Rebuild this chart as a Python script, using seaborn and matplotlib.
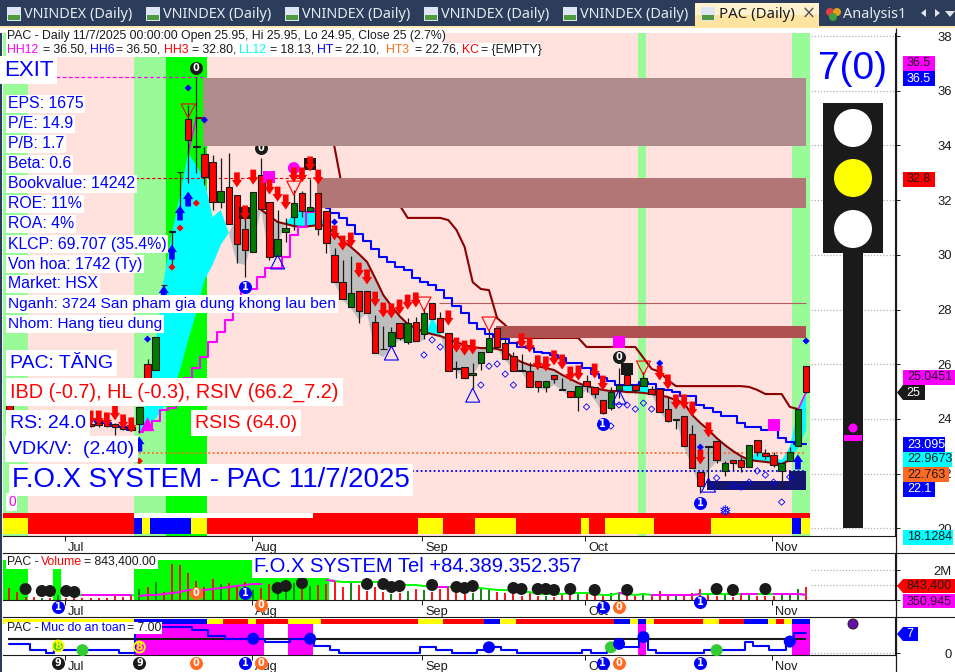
#!/usr/bin/env python3
# -*- coding: utf-8 -*-
import numpy as np
import matplotlib
matplotlib.use("Agg")
import matplotlib.pyplot as plt
from matplotlib.patches import Rectangle, Polygon, Circle
from matplotlib.path import Path
from matplotlib.transforms import ScaledTranslation
import seaborn as sns

# candles
open_ = [24.51,24.2,24.1,23.9,23.7,23.8,23.6,23.8,23.8,23.8,23.8,23.85,23.8,23.8,23.7,23.7,23.81,26.01,25.79,28.9,
         30.87,33.03,34.97,33.98,33.69,33.39,31.93,32.48,32.19,30.94,30.10,32.92,31.93,29.96,30.83,31.38,32.26,31.6,32.26,31.6,
         30.0,29.0,28.09,28.68,28.68,27.54,26.56,26.67,27.51,26.81,27.54,27.1,28.24,27.69,27.14,25.86,25.9,25.61,26.05,26.45,
         27.32,26.78,26.3,25.79,25.75,25.39,25.17,25.61,25.09,25.02,24.8,25.39,25.17,24.69,24.4,25.06,25.61,25.24,25.2,25.09,
         25.09,24.36,23.96,24.11,23.45,22.06,23.01,23.19,22.1,22.5,22.5,22.24,23.23,22.75,22.68,22.1,22.46,23.01,25.95]
high = [24.7,24.3,24.3,24.1,23.9,24.0,23.9,23.9,23.95,23.9,23.9,23.9,23.85,23.85,23.8,23.75,24.44,26.2,26.99,28.9,
        30.87,33.03,35.48,36.5,33.94,33.65,33.54,33.72,32.19,31.38,32.3,33.54,31.93,31.64,31.35,32.37,32.33,32.77,32.26,31.6,
        30.25,29.81,29.96,28.68,28.68,27.8,27.4,27.36,27.51,27.69,27.73,28.06,28.24,27.91,27.14,26.12,25.9,26.05,26.45,27.25,
        27.32,26.96,26.45,26.37,26.08,25.39,25.39,25.61,25.5,25.02,25.2,25.61,25.17,24.69,25.17,25.86,25.61,25.24,25.71,25.2,
        25.09,24.8,24.0,24.11,23.78,22.06,23.01,23.19,22.46,22.5,22.61,23.05,23.23,22.9,22.79,22.39,22.97,24.36,25.95]
low = [23.92,23.9,23.8,23.7,23.6,23.6,23.5,23.6,23.65,23.65,23.7,23.7,23.7,23.4,23.6,23.55,23.49,25.0,25.79,28.0,
       29.6,31.75,32.62,32.99,32.55,31.64,31.71,31.13,29.7,29.19,30.1,31.67,29.81,29.96,30.47,30.91,31.38,31.6,30.72,30.07,
       29.0,28.38,28.09,27.51,27.87,26.41,26.54,26.67,26.89,26.74,26.85,26.92,27.65,27.18,25.75,25.5,25.5,25.13,25.79,26.45,
       26.63,26.19,25.75,25.77,25.17,24.98,24.98,25.31,25.07,24.8,24.29,24.98,24.77,24.18,24.33,24.77,25.24,24.95,25.2,24.91,
       24.25,23.89,23.63,23.01,22.21,21.29,21.66,22.39,21.91,22.13,22.06,22.24,22.64,22.53,22.24,21.51,22.46,23.01,24.95]
close = [23.92,24.0,23.9,23.8,23.8,23.7,23.8,23.7,23.7,23.72,23.75,23.78,23.74,23.72,23.65,23.6,24.44,25.0,26.99,28.88,
         30.85,33.01,34.2,33.96,32.84,31.93,32.33,31.13,30.40,30.18,32.30,31.67,29.92,30.58,30.98,31.89,31.60,31.75,30.94,30.43,
         29.0,28.38,28.6,27.95,27.87,26.41,26.54,27.18,26.96,27.51,26.85,27.87,27.65,27.18,25.75,25.84,25.5,25.68,26.45,26.96,
         26.63,26.19,25.75,25.77,25.17,25.17,25.39,25.46,25.07,24.8,25.2,25.2,24.91,24.22,24.98,25.24,25.24,25.06,25.5,24.91,
         24.25,23.92,24.0,23.01,22.21,21.55,22.99,22.5,22.39,22.39,22.24,23.05,22.79,22.64,22.32,22.39,22.79,24.36,25.0]
bars = np.arange(len(close))

# cloud edges, bars 16 to 98
cloud_x = np.arange(16, 99)
cloud_ma = [23.49,23.78,24.03,24.4,24.87,25.79,26.89,27.87,29.08,29.63,30.36,
            30.8,31.38,31.53,31.64,31.64,31.42,31.2,31.13,31.05,31.02,31.05,31.09,31.05,30.8,30.51,30.29,30.03,29.74,29.15,28.53,
            28.13,27.76,27.47,27.32,27.18,27.1,27.03,26.92,26.81,26.7,26.63,26.59,26.59,26.56,26.48,26.23,26.08,25.97,25.93,25.86,
            25.79,25.61,25.46,25.31,25.2,25.13,25.06,25.02,25.02,24.98,24.98,24.95,24.91,24.87,24.8,24.69,24.58,24.14,23.85,23.6,
            23.3,23.05,22.83,22.64,22.5,22.46,22.43,22.39,22.35,22.5,22.94,23.6]
cloud_fast = [23.67,24.8,26.78,29.08,30.8,32.19,33.72,33.28,32.74,31.38,31.64,
              30.8,29.7,29.63,30.54,31.64,29.81,30.43,31.16,31.53,31.71,31.6,31.53,31.05,28.97,28.35,28.06,27.62,27.87,26.41,26.26,
              26.59,26.89,26.78,26.78,26.89,27.73,27.18,25.79,25.79,25.42,25.61,26.05,26.7,26.56,26.15,25.79,25.72,25.24,25.13,25.06,
              25.24,25.06,24.77,24.77,25.06,24.69,24.22,24.51,25.24,25.31,25.24,25.5,24.91,24.25,23.89,23.96,22.97,22.21,21.51,22.13,
              22.43,22.39,22.39,22.21,22.43,22.86,22.68,22.57,22.5,22.97,24.33,24.95]

# trailing lines
upper_x = np.arange(23, 98)
upper_line = [35.0,35.0,35.0,35.0,35.0,35.0,35.0,35.0,35.0,35.0,35.0,35.0,35.0,35.0,35.0,35.0,34.93,33.94,32.37,32.0,32.0,31.97,31.93,31.89,31.86,31.82,
              31.35,31.35,31.35,31.35,31.35,31.27,30.91,30.29,29.0,28.75,28.71,27.69,27.43,27.14,
              26.96,26.96,26.96,26.96,26.96,26.96,26.96,26.96,26.63,26.63,26.63,26.63,26.63,26.63,26.63,26.23,25.83,25.72,25.42,
              25.2,25.2,25.2,25.2,25.2,25.2,25.2,25.2,25.2,25.17,25.06,24.91,24.91,24.91,24.44,24.36]
blue_left_x = np.arange(10, 16)
blue_left = [23.95,23.89,23.85,23.75,23.7,23.6]
blue_x = np.arange(39, 99)
blue_line = [31.71,31.53,31.35,31.09,30.76,30.51,30.21,29.92,29.74,29.55,29.44,29.15,29.0,28.9,28.71,28.42,28.13,27.87,27.51,27.29,
             27.1,26.99,26.92,26.78,26.63,26.59,26.45,26.41,26.34,26.23,26.05,26.05,25.86,25.64,25.5,25.39,25.24,25.24,25.24,25.35,
             25.28,25.09,25.06,24.98,24.84,24.84,24.51,24.4,24.25,24.11,24.11,23.85,23.71,23.71,23.6,23.6,23.31,23.16,23.09,23.09]
magenta_x = np.arange(16, 39)
magenta_line = [23.52,23.6,23.92,24.33,24.4,24.87,25.5,25.86,26.26,26.81,27.18,27.62,27.91,28.75,28.75,29.19,29.52,29.52,29.92,30.72,31.02,31.57,31.68]
surge_top = [22, 23, 33.72, 35.0]
surge_end = [97, 98, 24.33, 24.98]

# markers on the price panel
arrow_dn_x = [10,11,12,13,14,15,28,29,30,32,33,34,35,36,37,38,40,41,42,43,44,45,46,47,48,49,50,54,55,56,57,63,64,65,66,67,68,69,70,72,73,80,81,82,83,84,85,86]
arrow_dn_y = [24.03,24.03,23.96,24.22,23.89,23.78,32.74,31.53,32.84,32.48,32.22,31.93,32.92,32.92,33.32,32.84,30.8,30.43,30.54,29.44,29.19,28.38,27.98,27.95,28.09,28.27,28.35,27.69,26.7,26.59,26.63,26.85,26.7,26.05,26.01,26.23,26.08,25.64,25.68,25.75,25.31,25.68,25.35,24.62,24.62,24.36,22.61,23.6]
arrow_up_x = [16,19,20,21,22,97]
arrow_up_y = [23.08,28.6,30.1,31.53,32.04,22.43]
tri_red_x = [22,35,51,59,78]
tri_red_y = [35.26,32.44,28.2,27.47,25.86]
tri_blue_x = [33,47,57,75,86]
tri_blue_y = [29.74,26.41,24.87,24.8,21.58]
dia_red_x = [16,20,21,23]
dia_red_y = [22.46,29.55,30.98,31.89]
dia_blue_x = [17,22,24,40,80,85,98]
dia_blue_y = [26.92,36.1,34.93,31.2,26.04,22.97,26.85]
dia_open_x = [51,52,53,58,59,60,61,62,71,74,75,76,77,78,79,87,89,90,91,92,93,94,95,96]
dia_open_y = [26.34,26.89,26.63,25.24,25.93,26.01,25.64,25.24,24.44,23.74,24.51,24.51,24.36,24.58,24.36,21.84,21.55,21.51,21.69,22.1,21.95,21.69,20.96,21.88]
sq_black_x = [29,37,76]
sq_black_y = [31.53,33.32,25.83]
sq_mag_x = [32,75,94]
sq_mag_y = [32.84,26.81,23.78]

# zones and ribbons (bar index edges)
pale_zones = [(-0.775,2.33),(15.33,19.33),(77.33,78.33),(96.33,98.5)]
lime_zone = (19.33,24.33)
rib_ends = [2.33,15.33,16.33,17.33,22.33,24.33,50.33,53.33,57.33,62.33,70.33,71.33,73.33,79.33,86.33,96.33,97.33,98.5]
rib_cols = ['y','r','b','y','b','y','r','y','r','y','r','y','r','y','r','y','b','y']
safe_ends = [15.33,24.33,26.33,29.33,30.33,34.33,38.33,50.33,53.33,58.33,60.33,62.33,74.33,76.33,77.33,78.33,79.33,85.33,87.33,90.33,93.33,94.33,95.33,96.33,98.5]
safe_cols = ['y','b','y','r','y','r','y','r','y','r','b','y','r','b','y','b','y','r','y','r','b','y','r','y','b']
safe_spans = [(15.33,31.33),(34.33,37.33),(77.33,78.33),(96.33,98.5)]
levels_zone = [(23.8,98,33.98,36.47,'#B08B8B'),(37.85,98,31.71,32.8,'#B27676'),(59.86,98,26.96,27.4,'#B05050'),
               (85.8,98,21.4,21.73,'#15156E'),(95.9,98,21.47,22.1,'#15156E')]

# volume, in thousands
volume_k = [800,534,200,200,133,133,333,133,133,133,133,133,133,333,200,267,734,867,1200,534,2400,2334,1800,1267,867,1400,1067,1134,1000,1200,
            667,800,1200,467,534,1267,734,934,1000,1067,1200,867,1134,1000,600,867,534,400,467,600,734,667,534,734,934,467,400,467,800,734,
            534,467,400,267,467,267,267,200,333,400,467,534,467,333,467,400,534,267,467,333,600,333,333,333,467,734,400,267,400,200,400,467,267,267,267,400,333,734,843.4]
vol_ma_x = np.arange(8, 99)
vol_ma_k = [333,333,333,333,333,333,333,333,267,333,333,400,467,534,667,667,667,734,800,867,934,1000,1067,1067,1134,1134,1200,1200,1267,1267,1334,1334,
            1267,1200,1200,1200,1200,1200,1200,1134,1067,1000,1000,934,867,867,867,867,867,800,800,734,667,667,600,534,534,400,400,400,400,467,467,467,400,333,333,467,400,333,400,
            333,333,333,333,333,333,400,400,400,400,400,400,400,400,400,400,400,400,400,351]
vol_mag = [(9,15),(16,31),(39,40),(52,54),(75,76),(79,85),(90,92),(94,98)]
vol_zones = [(-0.775,2.33,2670),(5.33,6.33,2670),(15.33,29.9,2670),(29.9,39.3,1470)]
vol_dot_x = [2,4,5,7,8,33,34,36,44,46,47,48,52,55,56,57,62,63,65,66,67,69,72,76,87,89,93]
vol_dot_k = [734,600,600,600,534,800,934,1134,1067,1067,867,934,1000,867,800,934,800,734,734,734,667,734,667,667,734,667,734]

# safety level
safety = [3,3,3,1,1,0,1,1,1,1,1,1,1,1,0,0,8,8,9,9,9,9,9,8,8,6,6,5,5,5,5,5,4,4,4,5,5,5,2.4,2.4,1,
          0,0,0,0,0,0,0,0,0,0,2,2,1,1,0,0,0,1,2,2,1,1,0,0,0,0,0,0,0,0,1,0,0,1,2,2,2,5,1,
          0,0,0,0,0,0,1,1,1,1,1,4,2.4,2.4,1,1,3.8,7,7]
safe_blue_x = [30,37,59,75,78,96]
safe_blue_y = [5,5,2,3.2,5.6,4]
safe_green_x = [6,9,74,87]
safe_green_y = [2.45,1,2,1]

month_pos = [7,30,51,71,94]
month_names = ['Jul','Aug','Sep','Oct','Nov']
price_ticks = [20,22,24,26,28,30,32,34,36,38]

info_labels = ['EPS: 1675','P/E: 14.9','P/B: 1.7','Beta: 0.6','Bookvalue: 14242','ROE: 11%','ROA: 4%','KLCP: 69.707 (35.4%)',
               'Von hoa: 1742 (Ty)','Market: HSX','Nganh: 3724 San pham gia dung khong lau ben','Nhom: Hang tieu dung']
info_sizes = [11.4,11.4,11.4,11.4,11.4,11.4,11.4,11.4,11.4,11.4,11.05,11.1]
header2 = [(7,'HH12','#FF00FF'),(43,'= 36.50,','k'),(90,'HH6','#0000FF'),(116,'= 36.50,','k'),(164,'HH3','#FF0000'),(192,'= 32.80,','k'),
           (239,'LL12','#00FFFF'),(270,'= 18.13,','k'),(317,'HT','#0000FF'),(335,'= 22.10,','k'),(386,'HT3','#FF6A22'),(415,'= 22.76,','k'),
           (462,'KC','#FF0000'),(481,'= {EMPTY}','k')]
side_tags = [(903,56,935,71,'#FF00FF','k','36.5'),(903,71,935,86,'#0000FF','w','36.5'),(903,172,935,187,'#FF0000','k','32.8'),
             (903,370,955,385,'#FF00FF','k','25.0451'),(903,437,945,452,'#0000FF','w','23.095'),(903,452,952,467,'#00FFFF','k','22.9673'),
             (903,467,949,482,'#FF6A22','k','22.763'),(903,482,935,497,'#0000FF','w','22.1'),(903,530,953,545,'#00FFFF','k','18.1284'),
             (903,594,955,608,'#FF00FF','k','350,945')]
arrow_tags = [(897,925,385,400,'k','w','25'),(897,955,579,593,'#FF0000','k','843,400'),(897,918,627,641,'#0000FF','w','7')]

W, H = 955, 672
sns.set_theme(style='white')
plt.rcParams['font.family'] = ['Liberation Sans', 'DejaVu Sans']
plt.rcParams['axes.linewidth'] = 0.8
RED, GREEN, BLUE, MAG, LIME, PALE, PINK = '#FF0000', '#007A00', '#0000FF', '#FF00FF', '#00FF00', '#99FB98', '#FFE1DE'
DKRED = '#8B0000'
COL = {'y': '#FFFF00', 'r': RED, 'b': BLUE}
XL = (-0.775, 108.94)

fig = plt.figure(figsize=(W/100, H/100), dpi=100, facecolor='white')


def panel(y0, y1):
    a = fig.add_axes([3/W, 1-y1/H, 892/W, (y1-y0)/H])
    a.set_xlim(*XL)
    for s in ['left']:
        a.spines[s].set_visible(False)
    for s in ['top', 'bottom', 'right']:
        a.spines[s].set_color('k')
    a.spines['top'].set_visible(y0 != 33)
    a.tick_params(axis='x', bottom=True, length=3.6, width=0.7, pad=1, labelsize=9.2, colors='k')
    a.tick_params(axis='y', left=False, right=True, labelleft=False, labelright=True, length=3.6, width=0.7, pad=37.4, labelsize=9.4, colors='k')
    a.set_xticks([m-0.2 for m in month_pos], month_names)
    off = ScaledTranslation(3/100, 0, fig.dpi_scale_trans)
    for t in a.get_xticklabels():
        t.set_ha('left')
        t.set_transform(t.get_transform()+off)
    return a


def dots(a, x, y, marker, color, px, z=6, lw=0, edge='none'):
    sns.scatterplot(x=x, y=y, ax=a, marker=marker, color=color, s=(px*0.72)**2, linewidth=lw, edgecolor=edge, zorder=z, clip_on=False, legend=False)


def hollow(a, x, y, marker, color, px, lw=0.8, z=6):
    a.scatter(x, y, marker=marker, s=(px*0.72)**2, facecolors='none', edgecolors=color, linewidths=lw, zorder=z, clip_on=False)


def badge(a, x, y, txt, color, z=7, px=13):
    a.scatter([x], [y], s=(px*0.72)**2, color=color, linewidths=0, zorder=z, clip_on=False)
    a.text(x, y, txt, color='w', fontsize=7, fontweight='bold', family='DejaVu Sans', ha='center', va='center', zorder=z+0.1, clip_on=False)


arrow_up = Path([(-.19,-.5),(.19,-.5),(.19,0),(.34,0),(0,.5),(-.34,0),(-.19,0),(-.19,-.5)], closed=True)
arrow_dn = Path([(-.19,.5),(.19,.5),(.19,0),(.34,0),(0,-.5),(-.34,0),(-.19,0),(-.19,.5)], closed=True)

# ---- price panel
ax = panel(33, 536)
ax.set_ylim(19.72, 38.11)
ax.axvspan(XL[0], 98.5, color=PINK, lw=0, zorder=0.2)
for a0, a1 in pale_zones:
    ax.axvspan(a0, a1, color=PALE, lw=0, zorder=0.3)
ax.axvspan(*lime_zone, color=LIME, lw=0, zorder=0.3)

# ribbons at the foot of the panel
ax.axvspan(XL[0], 15.33, ymin=0.0358, ymax=0.0457, color=RED, lw=0, zorder=0.9)
ax.axvspan(15.33, 37.33, ymin=0.0358, ymax=0.0457, color='w', lw=0, zorder=0.9)
ax.axvspan(37.33, 98.5, ymin=0.0358, ymax=0.0457, color=RED, lw=0, zorder=0.9)
prev = XL[0]
for e, c in zip(rib_ends, rib_cols):
    ax.axvspan(prev, e, ymin=0.004, ymax=0.0358, color=COL[c], lw=0, zorder=0.9)
    prev = e

# cloud
cm, cf = np.array(cloud_ma), np.array(cloud_fast)
ax.fill_between(cloud_x, cm, cf, where=cf >= cm, interpolate=True, color='#00FFFF', lw=0, zorder=1.5)
ax.fill_between(cloud_x, cm, cf, where=cf <= cm, interpolate=True, color='#BEBEBE', lw=0, zorder=1.5)

# level lines
ax.hlines(36.5, 5.7, 23.8, color=MAG, lw=0.9, ls=(0, (3, 2)), zorder=2)
ax.hlines(32.8, 15.5, 37.9, color='#E00000', lw=0.8, ls=(0, (3, 2)), zorder=2)
ax.hlines(22.76, 16, 98, color='#FF6A22', lw=1.3, ls=(0, (1, 1.4)), zorder=2)
ax.hlines(22.1, 0, 98, color=BLUE, lw=1.3, ls=(0, (1, 1.4)), zorder=2)
ax.hlines(28.24, 52.9, 98, color='#B06060', lw=0.8, zorder=2)
ax.hlines(price_ticks, 98.6, XL[1], color='#B0B0B0', lw=0.9, ls=(0, (1, 1.5)), zorder=1)

# trailing lines
sns.lineplot(x=cloud_x[15:81], y=cloud_ma[15:81], ax=ax, color=DKRED, lw=1.5, zorder=3, errorbar=None)
sns.lineplot(x=upper_x, y=upper_line, ax=ax, color=DKRED, lw=1.5, zorder=3, errorbar=None)
sns.lineplot(x=blue_left_x, y=blue_left, ax=ax, color=BLUE, lw=1.5, drawstyle='steps-mid', zorder=3, errorbar=None)
sns.lineplot(x=blue_x, y=blue_line, ax=ax, color=BLUE, lw=1.5, drawstyle='steps-mid', zorder=3, errorbar=None)
sns.lineplot(x=magenta_x, y=magenta_line, ax=ax, color=MAG, lw=1.5, drawstyle='steps-mid', zorder=3, errorbar=None)
ax.plot(surge_top[:2], surge_top[2:], color=MAG, lw=1.2, zorder=3)
ax.plot(surge_end[:2], surge_end[2:], color=MAG, lw=1.2, zorder=3)
badge(ax, 31, 33.9, '0', 'k', z=3.2)

# supply and demand zones
for a0, a1, lo, hi, c in levels_zone:
    ax.fill_between([a0, a1], lo, hi, color=c, lw=0, zorder=4)

# candles
o, h, l, c_ = map(np.array, (open_, high, low, close))
ax.vlines(bars, l, h, color='k', lw=0.9, zorder=5)
body_col = [RED if b else GREEN for b in c_ < o]
ax.bar(bars, np.abs(c_-o), bottom=np.minimum(o, c_), width=0.8, color=body_col, edgecolor='k', linewidth=0.8, zorder=5.1)

# signals
dots(ax, sq_black_x, sq_black_y, 's', 'k', 12, z=5.5)
dots(ax, sq_mag_x, sq_mag_y, 's', MAG, 12, z=5.5)
dots(ax, [35], [33.17], 'o', MAG, 12, z=5.5)
dots(ax, arrow_dn_x, arrow_dn_y, arrow_dn, RED, 15)
dots(ax, arrow_up_x, arrow_up_y, arrow_up, BLUE, 15)
hollow(ax, tri_red_x, tri_red_y, 'v', RED, 14)
hollow(ax, tri_blue_x, tri_blue_y, '^', BLUE, 14)
dots(ax, [17], [23.81], '^', MAG, 14)
dots(ax, dia_red_x, dia_red_y, 'D', RED, 5)
dots(ax, dia_blue_x, dia_blue_y, 'D', BLUE, 5)
hollow(ax, dia_open_x, dia_open_y, 'D', BLUE, 4.5, lw=0.6)
badge(ax, 23, 36.83, '0', 'k')
badge(ax, 75, 26.26, '0', 'k')
badge(ax, 29, 28.82, '1', BLUE)
badge(ax, 73, 23.81, '1', BLUE)
badge(ax, 85, 20.93, '1', BLUE)
ax.text(88, 20.63, '\u2745', color=BLUE, fontsize=11, ha='center', va='center', family='DejaVu Sans', zorder=7)
ax.set_yticks(price_ticks)
for t in ax.get_yticklabels():
    t.set_ha('right')

# ---- volume panel
ax_v = panel(553, 600)
ax_v.set_ylim(0, 3135000)
for a0, a1, top_k in vol_zones:
    ax_v.fill_between([a0, a1], 0, top_k*1000, color=LIME, lw=0, zorder=0.5)
ax_v.hlines([1000000, 2000000], 98.6, XL[1], color='#B0B0B0', lw=0.9, ls=(0, (1, 1.5)), zorder=1)
ax_v.vlines(bars, 0, np.array(volume_k)*1000, color=[RED if b else GREEN for b in c_ < o], lw=1.3, zorder=2)
sns.lineplot(x=vol_ma_x, y=np.array(vol_ma_k)*1000, ax=ax_v, color=LIME, lw=1.4, zorder=3, errorbar=None)
for s0, s1 in vol_mag:
    keep = (vol_ma_x >= s0) & (vol_ma_x <= s1)
    sns.lineplot(x=vol_ma_x[keep], y=np.array(vol_ma_k)[keep]*1000, ax=ax_v, color=MAG, lw=1.4, zorder=3.1, errorbar=None)
dots(ax_v, vol_dot_x, np.array(vol_dot_k)*1000, 'o', 'k', 12, z=4)
badge(ax_v, 6, -467000, '1', BLUE)
badge(ax_v, 23, 467000, '0', '#FF6A22')
badge(ax_v, 29, 467000, '1', BLUE)
badge(ax_v, 31, -333000, '0', '#FF6A22')
badge(ax_v, 73, -467000, '1', BLUE)
badge(ax_v, 75, -467000, '0', '#FF6A22')
badge(ax_v, 85, -133000, '1', BLUE)
ax_v.set_yticks([0, 1000000, 2000000], ['', '', '2M'])
for t in ax_v.get_yticklabels():
    t.set_ha('right')

# ---- safety panel
ax_s = panel(617, 655)
ax_s.set_ylim(-0.7, 12.6)
for s0, s1 in safe_spans:
    ax_s.axvspan(s0, s1, ymin=0, ymax=0.816, color=MAG, lw=0, zorder=0.5)
prev = XL[0]
for e, c in zip(safe_ends, safe_cols):
    ax_s.axvspan(prev, e, ymin=0.816, ymax=0.947, color=COL[c], lw=0, zorder=0.6)
    prev = e
ax_s.hlines(0, 98.6, XL[1], color='#B0B0B0', lw=0.9, ls=(0, (1, 1.5)), zorder=1)
ax_s.hlines(5, -0.2, 98, color='k', lw=1.5, zorder=2)
sns.lineplot(x=bars, y=safety, ax=ax_s, color=BLUE, lw=1.5, drawstyle='steps-mid', zorder=3, errorbar=None)
dots(ax_s, safe_green_x, safe_green_y, 'o', '#32CD32', 12, z=4)
dots(ax_s, safe_blue_x, safe_blue_y, 'o', BLUE, 12, z=4)
hollow(ax_s, [6, 16], [2.45, 2.1], 'o', '#FFFF00', 11, lw=1.3, z=5)
for bx, by in [(6, 2.45), (16, 2.1)]:
    ax_s.text(bx, by, '8', color='#FFFF00', fontsize=7.5, fontweight='bold', family='DejaVu Sans', ha='center', va='center', zorder=5.1)
for bx, txt, col in [(6,'9','k'),(16,'9','k'),(23,'0','#FF6A22'),(29,'1',BLUE),(31,'0','#FF6A22'),(73,'1',BLUE),(75,'0','#FF6A22'),(85,'1',BLUE)]:
    badge(ax_s, bx, -3.5, txt, col)
ax_s.set_yticks([0], ['0'])
for t in ax_s.get_yticklabels():
    t.set_ha('right')

# ---- overlay in screen pixels: window chrome, text boxes, traffic light
top = fig.add_axes([0, 0, 1, 1], zorder=20)
top.set_xlim(0, W)
top.set_ylim(H, 0)
top.axis('off')
top.patch.set_alpha(0)


def box(x0, y0, x1, y1, color, z=1):
    top.add_patch(Rectangle((x0, y0), x1-x0, y1-y0, color=color, lw=0, zorder=z))


# tab bar
NAVY = '#2C3D5B'
box(0, 0, W, 26, NAVY)
box(0, 26, 2, H, NAVY)
box(0, 26, W, 28, '#FFE9B0')
box(0, 28, 3, 33, 'w')
for tx in [6, 145, 284, 423, 562]:
    box(tx+1, 7, tx+15, 21, '#DDE6F2', 2)
    box(tx+2, 15, tx+14, 20, '#4E9A3C', 2)
    top.text(tx+18, 14.5, 'VNINDEX (Daily)', color='#E6EAF0', fontsize=10.4, family='Noto Sans', va='center', zorder=3)
box(695, 3, 819, 15, '#FFF3CF', 2)
box(695, 15, 819, 28, '#FFE3A0', 2)
box(701, 7, 715, 21, '#DDE6F2', 3)
box(702, 15, 714, 20, '#4E9A3C', 3)
top.text(719, 14.5, 'PAC (Daily)', color='k', fontsize=10.8, fontweight='bold', family='Noto Sans', va='center', zorder=3)
top.text(809, 14, '\u00d7', color='#555555', fontsize=12, ha='center', va='center', family='DejaVu Sans', zorder=3)
top.add_patch(Circle((830, 12), 4, color='#E04040', lw=0, zorder=2))
top.add_patch(Circle((837, 12), 4, color='#E0A020', lw=0, zorder=2))
top.add_patch(Circle((833, 17), 4, color='#40A040', lw=0, zorder=2))
top.text(843, 14.5, 'Analysis1', color='#E6EAF0', fontsize=10.4, family='Noto Sans', va='center', zorder=3)
top.add_patch(Polygon([(926, 9), (926, 17), (921, 13)], color='#E0E4EA', lw=0, zorder=2))
top.add_patch(Polygon([(935, 9), (935, 17), (940, 13)], color='#E0E4EA', lw=0, zorder=2))
top.add_patch(Polygon([(945, 11), (955, 11), (950, 17)], color='#E0E4EA', lw=0, zorder=2))

# separators and right axis line
top.hlines([553, 617], 895, W, color='k', lw=0.8, zorder=2)
top.vlines(895.5, 28, H, color='k', lw=0.9, zorder=2)

# chart header
box(6, 30, 445, 43, 'w')
box(6, 43, 540, 57, 'w')
top.text(7, 36, 'PAC - Daily 11/7/2025 00:00:00 Open 25.95, Hi 25.95, Lo 24.95, Close 25 (2.7%)', color='k', fontsize=8.8, va='center', zorder=3)
for tx, txt, col in header2:
    top.text(tx, 50, txt, color=col, fontsize=8.8, va='center', zorder=3)

# left info boxes


def label(x, y, txt, color, size, pad=1.2):
    top.text(x, y, txt, color=color, fontsize=size, va='center', ha='left', zorder=4,
             bbox=dict(facecolor='w', edgecolor='none', pad=pad))


label(4, 70, 'EXIT', BLUE, 16, pad=2.5)
for n, txt in enumerate(info_labels):
    label(8, 104+20*n, txt, BLUE, info_sizes[n])
label(10, 363, 'PAC: T\u0102NG', BLUE, 14, pad=3)
label(10, 392, 'IBD (-0.7), HL (-0.3), RSIV (66.2_7.2)', RED, 14.3, pad=3)
label(10, 423, 'RS: 24.0', BLUE, 14, pad=3)
label(195, 423, 'RSIS (64.0)', RED, 14, pad=3)
label(9, 449, 'VDK/V:  (2.40)', BLUE, 14, pad=3)
label(12, 480, 'F.O.X SYSTEM - PAC 11/7/2025', BLUE, 19.9, pad=2)
label(8, 502, '0', MAG, 10)
label(254, 567, 'F.O.X SYSTEM Tel +84.389.352.357', BLUE, 14.5)

# panel titles
box(6, 555, 158, 569, 'w')
top.text(7, 562, 'PAC - ', color='k', fontsize=8.8, va='center', zorder=3)
top.text(41, 562, 'Volume', color=RED, fontsize=8.8, va='center', zorder=3)
top.text(84, 562, '= 843,400.00', color='k', fontsize=8.8, va='center', zorder=3)
box(5, 622, 162, 634, 'w')
top.text(7, 628, 'PAC - ', color='k', fontsize=8.8, va='center', zorder=3)
top.text(41, 628, 'Muc do an toan', color=BLUE, fontsize=8.8, va='center', zorder=3)
top.text(127, 628, '= 7.00', color='k', fontsize=8.8, va='center', zorder=3)

# traffic light
top.text(852, 69, '7(0)', color=BLUE, fontsize=28, ha='center', va='center', zorder=3)
box(823, 103, 883, 253, 'k', 2)
box(843, 253, 863, 528, 'k', 2)
for cy, col in [(128, 'w'), (178, '#FFFF00'), (229, 'w')]:
    top.add_patch(Circle((853, cy), 19, color=col, lw=0, zorder=3))
top.add_patch(Circle((853, 428), 4.5, color=MAG, lw=0, zorder=3))
box(844, 435, 862, 441, MAG, 3)
top.add_patch(Circle((853, 624), 5, facecolor='#6A0DAD', edgecolor='#222222', lw=0.7, zorder=3))

# price tags on the right
for x0, y0, x1, y1, col, tc, txt in side_tags:
    box(x0, y0, x1, y1, col, 5)
    top.text(x0+4, (y0+y1)/2, txt, color=tc, fontsize=9, va='center', zorder=6)
for x0, x1, y0, y1, col, tc, txt in arrow_tags:
    ym = (y0+y1)/2
    top.add_patch(Polygon([(x0, ym), (x0+6, y0), (x1, y0), (x1, y1), (x0+6, y1)], color=col, lw=0, zorder=5))
    top.text(x0+9, ym, txt, color=tc, fontsize=9, va='center', zorder=6)

fig.savefig('out.png', dpi=100)
